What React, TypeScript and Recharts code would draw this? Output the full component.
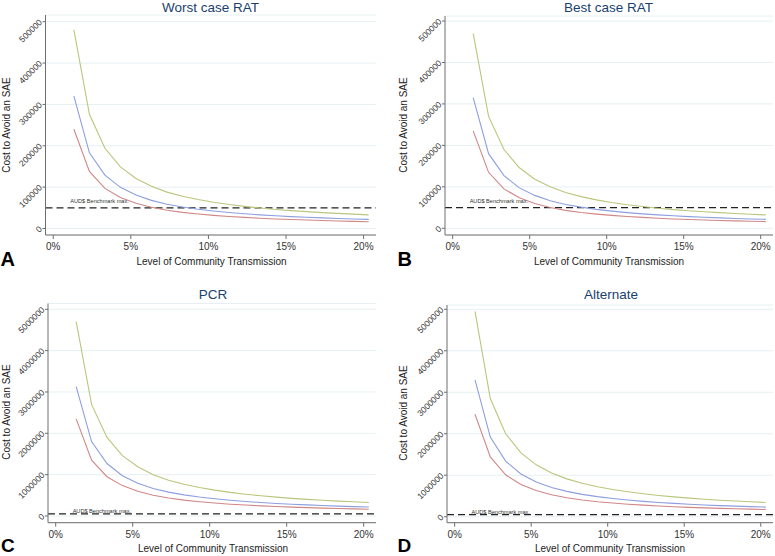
import React from 'react';
import { LineChart, Line, XAxis, YAxis, CartesianGrid, ReferenceLine, ReferenceDot } from 'recharts';

// Level of community transmission (%)
const transmission = [1.33, 2.33, 3.33, 4.33, 5.33, 6.33, 7.33, 8.33, 9.33, 10.33, 11.33, 12.33, 13.33, 14.33, 15.33, 16.33, 17.33, 18.33, 19.33, 20.33];

// Panel A: Worst case RAT
const worstHigh = [480000, 276000, 194000, 149000, 121000, 102000, 88000, 78000, 70000, 63500, 58000, 53500, 49500, 46000, 43200, 40700, 38500, 36500, 34700, 33000];
const worstMid = [320000, 183000, 129000, 99500, 81000, 68000, 58700, 52000, 46500, 42200, 38600, 35600, 33000, 30700, 28800, 27100, 25600, 24200, 23100, 22000];
const worstLow = [240000, 138000, 97000, 75000, 61000, 51200, 44200, 39000, 35000, 31700, 29000, 26800, 24800, 23100, 21700, 20400, 19200, 18200, 17300, 16500];

// Panel B: Best case RAT
const bestHigh = [470000, 270000, 190000, 146000, 118500, 100000, 86300, 76400, 68600, 62200, 56800, 52400, 48500, 45100, 42300, 39900, 37700, 35800, 34000, 32300];
const bestMid = [315000, 180000, 127000, 97500, 79400, 66600, 57500, 51000, 45600, 41400, 37800, 34900, 32300, 30100, 28200, 26600, 25100, 23700, 22600, 21600];
const bestLow = [235000, 135000, 95000, 73500, 59800, 50200, 43300, 38200, 34300, 31100, 28400, 26300, 24300, 22600, 21300, 20000, 18800, 17800, 17000, 16200];

// Panel C: PCR
const pcrHigh = [4700000, 2700000, 1900000, 1460000, 1190000, 1000000, 866000, 766000, 688000, 625000, 571000, 527000, 489000, 456000, 427000, 402000, 380000, 361000, 343000, 327000];
const pcrMid = [3130000, 1800000, 1270000, 975000, 794000, 667000, 577000, 511000, 458000, 416000, 381000, 352000, 326000, 304000, 285000, 268000, 253000, 240000, 228000, 218000];
const pcrLow = [2350000, 1350000, 950000, 735000, 598000, 502000, 434000, 384000, 345000, 313000, 286000, 265000, 246000, 229000, 215000, 202000, 191000, 181000, 173000, 165000];

// Panel D: Alternate
const altHigh = [4950000, 2850000, 2000000, 1540000, 1250000, 1055000, 912000, 805000, 722000, 655000, 600000, 553000, 513000, 478000, 448000, 422000, 398000, 378000, 360000, 343000];
const altMid = [3300000, 1920000, 1340000, 1030000, 838000, 705000, 610000, 538000, 483000, 438000, 401000, 370000, 344000, 321000, 301000, 283000, 268000, 254000, 242000, 231000];
const altLow = [2470000, 1440000, 1010000, 775000, 630000, 530000, 458000, 404000, 362000, 329000, 301000, 278000, 258000, 241000, 226000, 213000, 201000, 191000, 182000, 174000];

const xTicks = [0, 5, 10, 15, 20];
const smallTicks = [0, 100000, 200000, 300000, 400000, 500000];
const bigTicks = [0, 1000000, 2000000, 3000000, 4000000, 5000000];
const benchmark = 50000;
const benchmarkLabel = 'AUD$ Benchmark max.';
const titles = ['Worst case RAT', 'Best case RAT', 'PCR', 'Alternate'];
const letters = ['A', 'B', 'C', 'D'];
const xLabel = 'Level of Community Transmission';
const yLabel = 'Cost to Avoid an SAE';

const FONT = '"Liberation Sans", Arial, Helvetica, sans-serif';
const GREEN = '#b9c77c';
const BLUE = '#8d9fe0';
const RED = '#d18787';
const AXIS = '#6e6e6e';

const build = (hi: number[], mid: number[], lo: number[]) =>
  transmission.map((x, i) => ({ x, high: hi[i], mid: mid[i], low: lo[i] }));

const YTick = (props: any) => {
  const { x, y, payload } = props;
  const ax = x - 1;
  const ay = y - 1;
  return (
    <text x={ax} y={ay} transform={`rotate(-45 ${ax} ${ay})`} textAnchor="end" dominantBaseline="central"
      fontSize={8.5} fill="#333" fontFamily={FONT}>{payload.value}</text>
  );
};

const XTick = (props: any) => {
  const { x, y, payload } = props;
  return (
    <text x={x} y={y} dy={9} textAnchor="middle" fontSize={10} fill="#333" fontFamily={FONT}>{payload.value}%</text>
  );
};

const BenchLabel = (props: any) => {
  const { cx, cy } = props;
  return (
    <text x={cx} y={cy} fontSize={5.6} fill="#333" fontFamily={FONT}>{benchmarkLabel}</text>
  );
};

type PanelProps = {
  data: any[];
  left: number; top: number; width: number; height: number;
  yAxisWidth: number;
  margin: { top: number; right: number; bottom: number; left: number };
  yDomain: [number, number];
  xDomain: [number, number];
  yTicks: number[];
};

const Panel = (p: PanelProps) => (
  <div style={{ position: 'absolute', left: p.left, top: p.top, width: p.width, height: p.height }}>
    <LineChart width={p.width} height={p.height} data={p.data} margin={p.margin}>
      <CartesianGrid horizontal={true} vertical={false} stroke="#e6f0f2" strokeWidth={1} />
      <XAxis type="number" dataKey="x" domain={p.xDomain} ticks={xTicks} allowDataOverflow
        height={30} tickSize={4} tickMargin={2} tick={<XTick />} stroke={AXIS}
        axisLine={{ stroke: AXIS }} tickLine={{ stroke: AXIS }} />
      <YAxis type="number" domain={p.yDomain} ticks={p.yTicks} allowDataOverflow
        width={p.yAxisWidth} tickSize={3} tickMargin={1} tick={<YTick />} interval={0}
        axisLine={{ stroke: AXIS }} tickLine={{ stroke: AXIS }} />
      <ReferenceLine y={benchmark} stroke="#222" strokeWidth={1.3} strokeDasharray="7 4" />
      <ReferenceDot x={1.1} y={61000} r={0} shape={<BenchLabel />} />
      <Line type="linear" dataKey="low" stroke={RED} strokeWidth={1.1} dot={false} isAnimationActive={false} />
      <Line type="linear" dataKey="mid" stroke={BLUE} strokeWidth={1.1} dot={false} isAnimationActive={false} />
      <Line type="linear" dataKey="high" stroke={GREEN} strokeWidth={1.1} dot={false} isAnimationActive={false} />
    </LineChart>
  </div>
);

export default function App() {
  const xd: [number, number] = [-0.5, 20.8];
  return (
    <div style={{ position: 'absolute', left: 0, top: 0, width: 775, height: 556, background: '#fff', overflow: 'hidden' }}>
      <Panel data={build(worstHigh, worstMid, worstLow)} left={0} top={0} width={387} height={275}
        yAxisWidth={45.5} margin={{ top: 15, right: 11, bottom: 10, left: 0 }}
        yDomain={[-15700, 516200]} xDomain={xd} yTicks={smallTicks} />
      <Panel data={build(bestHigh, bestMid, bestLow)} left={387} top={0} width={388} height={275}
        yAxisWidth={58} margin={{ top: 16, right: 2, bottom: 10, left: 0 }}
        yDomain={[-16160, 512060]} xDomain={xd} yTicks={smallTicks} />
      <Panel data={build(pcrHigh, pcrMid, pcrLow)} left={0} top={280} width={387} height={276}
        yAxisWidth={48} margin={{ top: 23.5, right: 11, bottom: 3.3, left: 0 }}
        yDomain={[-162000, 5140000]} xDomain={xd} yTicks={bigTicks} />
      <Panel data={build(altHigh, altMid, altLow)} left={387} top={280} width={388} height={276}
        yAxisWidth={60} margin={{ top: 25, right: 2, bottom: 3.3, left: 0 }}
        yDomain={[-144600, 5103700]} xDomain={xd} yTicks={bigTicks} />
      <svg width={775} height={556} style={{ position: 'absolute', left: 0, top: 0, pointerEvents: 'none' }}
        fontFamily={FONT}>
        <text x={210.5} y={11.5} textAnchor="middle" fontSize={13.5} fill="#1a3f6f">{titles[0]}</text>
        <text x={608.5} y={11.5} textAnchor="middle" fontSize={13.5} fill="#1a3f6f">{titles[1]}</text>
        <text x={213} y={299} textAnchor="middle" fontSize={13.5} fill="#1a3f6f">{titles[2]}</text>
        <text x={611} y={299} textAnchor="middle" fontSize={13.5} fill="#1a3f6f">{titles[3]}</text>

        <text x={211.5} y={264.5} textAnchor="middle" fontSize={10} fill="#222">{xLabel}</text>
        <text x={609} y={264.5} textAnchor="middle" fontSize={10} fill="#222">{xLabel}</text>
        <text x={213} y={551.5} textAnchor="middle" fontSize={10} fill="#222">{xLabel}</text>
        <text x={610} y={552} textAnchor="middle" fontSize={10} fill="#222">{xLabel}</text>

        <text x={10} y={125} transform="rotate(-90 10 125)" textAnchor="middle" fontSize={10} fill="#222">{yLabel}</text>
        <text x={407} y={125} transform="rotate(-90 407 125)" textAnchor="middle" fontSize={10} fill="#222">{yLabel}</text>
        <text x={10} y={412} transform="rotate(-90 10 412)" textAnchor="middle" fontSize={10} fill="#222">{yLabel}</text>
        <text x={407} y={413} transform="rotate(-90 407 413)" textAnchor="middle" fontSize={10} fill="#222">{yLabel}</text>

        <text x={0.5} y={266} fontSize={20} fontWeight="bold" fill="#000">{letters[0]}</text>
        <text x={397.5} y={266} fontSize={20} fontWeight="bold" fill="#000">{letters[1]}</text>
        <text x={1} y={552} fontSize={19} fontWeight="bold" fill="#000">{letters[2]}</text>
        <text x={397.5} y={552} fontSize={19} fontWeight="bold" fill="#000">{letters[3]}</text>
      </svg>
    </div>
  );
}
